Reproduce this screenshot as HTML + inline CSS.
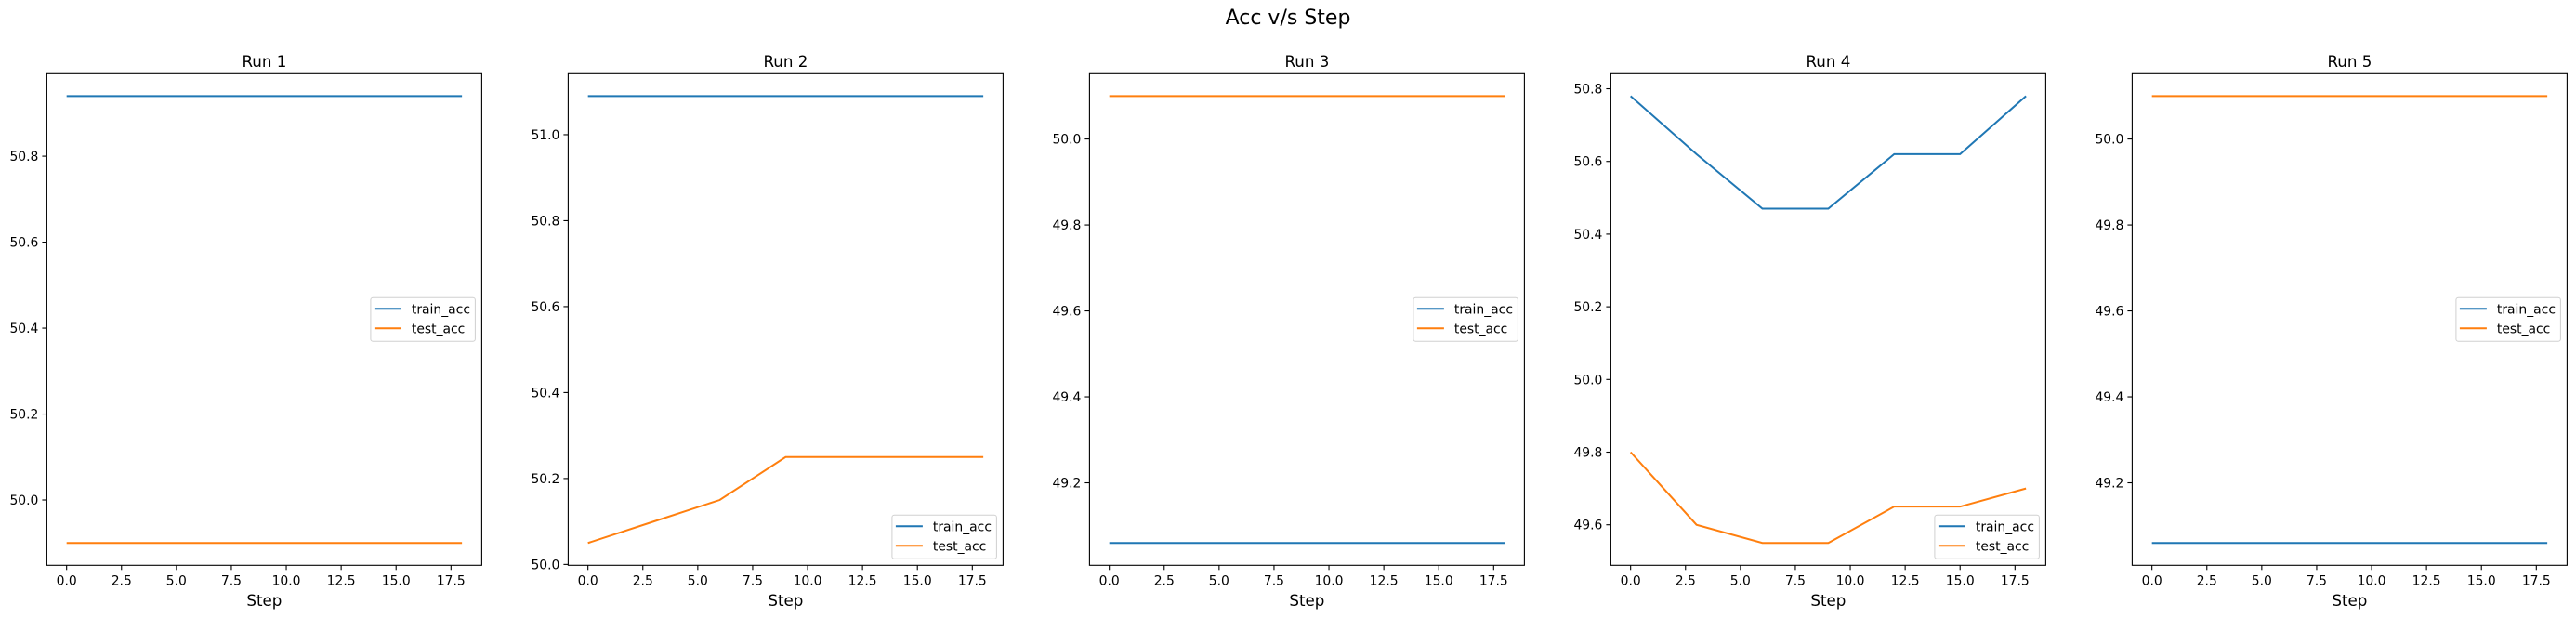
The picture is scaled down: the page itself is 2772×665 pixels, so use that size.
<!DOCTYPE html>
<html><head><meta charset="utf-8">
<style>
html,body{margin:0;padding:0;background:#fff;}
svg{display:block;font-family:"DejaVu Sans","Liberation Sans",sans-serif;}
</style></head>
<body>
<svg id="chart" width="2772" height="665" viewBox="0 0 2772 665" xmlns="http://www.w3.org/2000/svg">
<text x="1386" y="26" font-size="22" text-anchor="middle" fill="#000">Acc v/s Step</text>
</svg>
<script>
const steps = [0, 3, 6, 9, 12, 15, 18];
const runTitles = ["Run 1", "Run 2", "Run 3", "Run 4", "Run 5"];
const trainAcc1 = [50.94, 50.94, 50.94, 50.94, 50.94, 50.94, 50.94];
const testAcc1 = [49.9, 49.9, 49.9, 49.9, 49.9, 49.9, 49.9];
const trainAcc2 = [51.09, 51.09, 51.09, 51.09, 51.09, 51.09, 51.09];
const testAcc2 = [50.05, 50.1, 50.15, 50.25, 50.25, 50.25, 50.25];
const trainAcc3 = [49.06, 49.06, 49.06, 49.06, 49.06, 49.06, 49.06];
const testAcc3 = [50.1, 50.1, 50.1, 50.1, 50.1, 50.1, 50.1];
const trainAcc4 = [50.78, 50.62, 50.47, 50.47, 50.62, 50.62, 50.78];
const testAcc4 = [49.8, 49.6, 49.55, 49.55, 49.65, 49.65, 49.7];
const trainAcc5 = [49.06, 49.06, 49.06, 49.06, 49.06, 49.06, 49.06];
const testAcc5 = [50.1, 50.1, 50.1, 50.1, 50.1, 50.1, 50.1];
const xTicks = [0, 2.5, 5, 7.5, 10, 12.5, 15, 17.5];
const yTicks1 = [50.0, 50.2, 50.4, 50.6, 50.8];
const yTicks2 = [50.0, 50.2, 50.4, 50.6, 50.8, 51.0];
const yTicks3 = [49.2, 49.4, 49.6, 49.8, 50.0];
const yTicks4 = [49.6, 49.8, 50.0, 50.2, 50.4, 50.6, 50.8];
const yTicks5 = [49.2, 49.4, 49.6, 49.8, 50.0];
const legendLoc = ["center", "lower", "center", "lower", "center"];

const trains = [trainAcc1, trainAcc2, trainAcc3, trainAcc4, trainAcc5];
const tests = [testAcc1, testAcc2, testAcc3, testAcc4, testAcc5];
const yTicksAll = [yTicks1, yTicks2, yTicks3, yTicks4, yTicks5];

const NS = "http://www.w3.org/2000/svg";
const svg = document.getElementById("chart");
function mk(tag, attrs, parent) {
  const e = document.createElementNS(NS, tag);
  for (const k in attrs) e.setAttribute(k, attrs[k]);
  (parent || svg).appendChild(e);
  return e;
}
const AX_W = 468, AX_T = 79.3, AX_B = 608.3, SP = 561, X0 = 50.4;
const BLUE = "#1f77b4", ORANGE = "#ff7f0e";

for (let r = 0; r < 5; r++) {
  const g = mk("g", {});
  
  
  const L = X0 + r * SP, R = L + AX_W;
  const all = trains[r].concat(tests[r]);
  let mn = Math.min(...all), mx = Math.max(...all);
  const pad = (mx - mn) * 0.05;
  const ymin = mn - pad, ymax = mx + pad;
  const xmin = steps[0] - (steps[steps.length-1] - steps[0]) * 0.05;
  const xmax = steps[steps.length-1] + (steps[steps.length-1] - steps[0]) * 0.05;
  const sx = v => L + (v - xmin) / (xmax - xmin) * AX_W;
  const sy = v => AX_B - (v - ymin) / (ymax - ymin) * (AX_B - AX_T);

  const t = mk("text", {x: (L + R) / 2, y: AX_T - 7.5, "font-size": 16.7, "text-anchor": "middle", fill: "#000"}, g);
  t.textContent = runTitles[r];
  
  

  xTicks.forEach(v => {
    const x = sx(v);
    mk("line", {x1: x, x2: x, y1: AX_B, y2: AX_B + 5, stroke: "#000", "stroke-width": 1.1}, g);
    const tl = mk("text", {x: x, y: AX_B + 21, "font-size": 13.9, "text-anchor": "middle", fill: "#000"}, g);
    tl.textContent = v.toFixed(1);
    
    
  });
  yTicksAll[r].forEach(v => {
    const y = sy(v);
    mk("line", {x1: L - 5, x2: L, y1: y, y2: y, stroke: "#000", "stroke-width": 1.1}, g);
    const tl = mk("text", {x: L - 9, y: y + 5, "font-size": 13.9, "text-anchor": "end", fill: "#000"}, g);
    tl.textContent = v.toFixed(1);
    
    
  });
  const xl = mk("text", {x: (L + R) / 2, y: 652, "font-size": 16.7, "text-anchor": "middle", fill: "#000"}, g);
  xl.textContent = "Step";
  
  

  const mkLine = (vals, col, name) => {
    const p = mk("polyline", {points: vals.map((v, i) => sx(steps[i]) + "," + sy(v)).join(" "), fill: "none", stroke: col, "stroke-width": 2}, g);
    
    
  };
  mkLine(trains[r], BLUE, 'train-acc-line');
  mkLine(tests[r], ORANGE, 'test-acc-line');

  const frame = mk("rect", {x: L, y: AX_T, width: AX_W, height: AX_B - AX_T, fill: "none", stroke: "#000", "stroke-width": 1.1}, g);
  
  

  const lw = 112.5, lh = 47;
  const lx = R - 7 - lw;
  const ly = legendLoc[r] === "center" ? (AX_T + AX_B) / 2 - lh / 2 : AX_B - 7 - lh;
  const lg = mk("g", {}, g);
  
  
  mk("rect", {x: lx, y: ly, width: lw, height: lh, rx: 2.5, fill: "#fff", "fill-opacity": 0.8, stroke: "#d0d0d0", "stroke-width": 1}, lg);
  [["train_acc", BLUE], ["test_acc", ORANGE]].forEach((e, i) => {
    const yy = ly + 12 + i * 21;
    mk("line", {x1: lx + 4, x2: lx + 33, y1: yy, y2: yy, stroke: e[1], "stroke-width": 2}, lg);
    const tx = mk("text", {x: lx + 44, y: yy + 5, "font-size": 13.9, fill: "#000"}, lg);
    tx.textContent = e[0];
    
    
  });
}
</script>
</body></html>
